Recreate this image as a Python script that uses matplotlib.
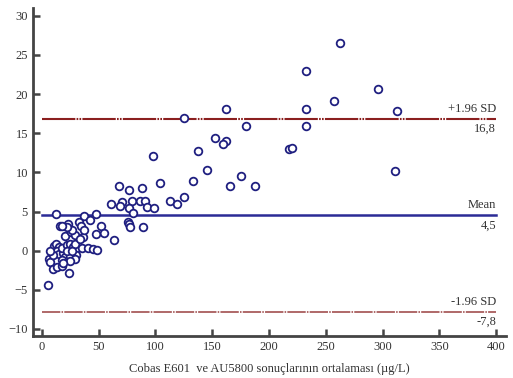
import matplotlib.pyplot as plt
import numpy as np

# Bland-Altman data: mean of the two methods (x) and difference (y)
mean_vals = [
    262.6, 232.3, 296.3, 257.5, 232.3, 313.0, 232.3, 218.0, 220.0, 311.0,
    162.5, 180.0, 124.8, 152.2, 162.1, 159.7, 137.2, 97.5, 145.6, 175.1,
    133.0, 103.7, 165.6, 187.7, 87.8, 125.4, 113.0, 118.7,
    67.8, 76.7, 60.8, 70.5, 68.7, 79.3, 86.3, 90.7, 76.7, 92.8, 98.7, 80.2,
    75.5, 76.7, 77.5, 89.3, 52.0, 47.3, 54.9, 63.4, 12.3, 37.0, 42.3, 47.6,
    5.6, 6.4, 7.0, 10.0, 12.9, 17.3, 23.8,
    10.6, 12.3, 15.3, 12.9, 15.3, 18.8, 20.5, 24.7,
    17.3, 21.8, 24.7, 27.6, 30.6, 29.1,
    20.3, 25.6, 29.1, 35.9, 33.5,
    26.2, 32.9, 23.2, 34.1, 37.0, 15.9, 21.8, 17.3,
    30.0, 29.1, 24.7, 35.0, 40.8, 45.2, 48.7,
    21.8, 26.2, 17.3, 18.8, 10.0, 7.0,
]
diff_vals = [
    26.5, 22.9, 20.7, 19.1, 18.1, 17.8, 15.9, 13.0, 13.1, 10.2,
    18.1, 15.9, 16.9, 14.4, 14.0, 13.6, 12.7, 12.1, 10.3, 9.6,
    8.9, 8.7, 8.2, 8.2, 8.0, 6.9, 6.4, 5.9,
    8.2, 7.7, 6.0, 6.2, 5.7, 6.4, 6.4, 6.4, 5.4, 5.6, 5.5, 4.8,
    3.7, 3.4, 3.0, 3.0, 3.1, 2.1, 2.2, 1.4, 4.7, 4.4, 3.9, 4.7,
    -4.4, -1.1, -1.4, -2.4, -2.1, -2.0, -2.9,
    0.6, 0.9, 0.5, -0.1, -0.4, -0.3, -0.8, -0.7,
    0.3, 0.7, 0.9, 0.5, 0.3, 0.9,
    1.9, 2.4, 2.0, 1.8, 1.5,
    2.7, 3.6, 3.4, 3.2, 2.7, 3.2, 3.0, 3.1,
    -0.6, -1.1, -1.3, 0.3, 0.3, 0.2, 0.1,
    -0.1, -0.1, -1.2, -1.6, -0.6, -0.1,
]

mean_diff = 4.5
upper_loa = 16.8
lower_loa = -7.8
x_end = 400

fig = plt.figure(figsize=(5.13, 3.78), dpi=100)
ax = fig.add_axes([0.064, 0.111, 0.922, 0.868])
plt.rcParams['font.family'] = 'Liberation Serif'

# limit lines
ax.plot([0, x_end], [upper_loa, upper_loa], color='#8b1f1f', lw=1.5,
        linestyle=(0, (16, 0.6, 0.8, 0.6, 0.8, 0.6)))
ax.plot([0, x_end], [mean_diff, mean_diff], color='#2b2b96', lw=1.8)
ax.plot([0, x_end], [lower_loa, lower_loa], color='#9a4040', lw=1.1,
        linestyle=(0, (12, 0.8, 1, 0.8)))

ax.plot(mean_vals, diff_vals, 'o', markersize=5.5, markerfacecolor='white',
        markeredgecolor='#1f1f80', markeredgewidth=1.3, linestyle='none')

# labels at right end of lines
txt = dict(ha='right', fontsize=9, color='#333333', family='Liberation Serif')
ax.text(x_end, upper_loa + 0.5, '+1.96 SD', va='bottom', **txt)
ax.text(x_end, upper_loa - 0.5, '16,8', va='top', **txt)
ax.text(x_end, mean_diff + 0.6, 'Mean', va='bottom', **txt)
ax.text(x_end, mean_diff - 0.6, '4,5', va='top', **txt)
ax.text(x_end, lower_loa + 0.5, '-1.96 SD', va='bottom', **txt)
ax.text(x_end, lower_loa - 0.5, '-7,8', va='top', **txt)

ax.set_xlim(-8, 408.5)
ax.set_ylim(-10.9, 31)
ax.set_xticks(np.arange(0, 401, 50))
ax.set_yticks(np.arange(-10, 31, 5))

for side in ['top', 'right']:
    ax.spines[side].set_visible(False)
for side in ['left', 'bottom']:
    ax.spines[side].set_linewidth(2)
    ax.spines[side].set_color('#444444')
ax.tick_params(direction='in', length=5, width=1.8, color='#444444',
               labelsize=9, labelcolor='#333333')
for lab in ax.get_xticklabels() + ax.get_yticklabels():
    lab.set_family('Liberation Serif')

ax.set_xlabel('Cobas E601  ve AU5800 sonuçlarının ortalaması (µg/L)',
              fontsize=9, color='#333333', family='Liberation Serif', labelpad=7)

plt.savefig('out.png', dpi=100)
plt.close(fig)
